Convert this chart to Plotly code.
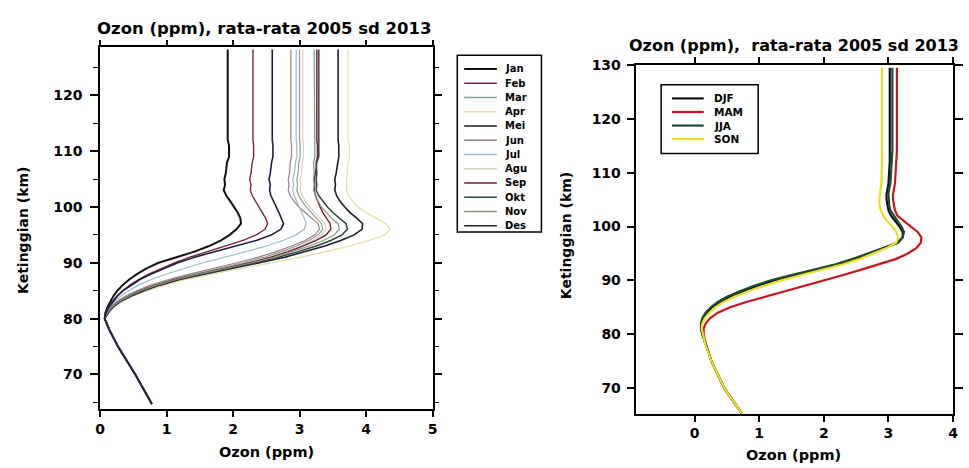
import plotly.graph_objects as go

W, H = 969, 468

# ---------------- data: left panel (monthly profiles) ----------------
months = ["Jan", "Feb", "Mar", "Apr", "Mei", "Jun", "Jul", "Agu", "Sep", "Okt", "Nov", "Des"]
month_colors = ["#111111", "#7a2838", "#8c9c92", "#e6dea2", "#1c1c30", "#9a8088",
                "#9cbccc", "#d6d2c0", "#6a2030", "#2a4a38", "#8a9282", "#1a2040"]
month_widths = [2.0, 1.4, 1.2, 1.2, 1.6, 1.2, 1.2, 1.2, 1.4, 1.5, 1.2, 1.6]

alt_left = [64.7, 70, 75, 78, 80, 81, 82, 83, 84, 85, 86, 87, 88, 89, 90, 91, 92, 93, 94, 95,
            96, 97, 98, 99, 100, 101, 102, 103, 104, 105, 106, 108, 109, 111, 112, 128.2]

low_common = [0.78, 0.53, 0.27, 0.14, 0.07]

ozon_jan = low_common + [0.08, 0.11, 0.15, 0.20, 0.26, 0.34, 0.44, 0.56, 0.70, 0.88, 1.15, 1.42, 1.64, 1.82, 1.95,
                         2.05, 2.12, 2.11, 2.07, 2.02, 1.96, 1.90, 1.86, 1.88, 1.87, 1.89, 1.91, 1.94, 1.94, 1.92, 1.92]
ozon_feb = low_common + [0.09, 0.13, 0.18, 0.25, 0.34, 0.45, 0.58, 0.74, 0.92, 1.12, 1.35, 1.62, 1.90, 2.15, 2.35,
                         2.48, 2.52, 2.49, 2.44, 2.39, 2.34, 2.29, 2.26, 2.27, 2.25, 2.27, 2.29, 2.31, 2.31, 2.30, 2.30]
ozon_mar = low_common + [0.11, 0.17, 0.26, 0.40, 0.57, 0.80, 1.08, 1.43, 1.80, 2.15, 2.47, 2.73, 2.95, 3.14, 3.28,
                         3.35, 3.33, 3.25, 3.17, 3.10, 3.04, 2.99, 2.96, 2.97, 2.96, 2.98, 2.99, 3.01, 3.01, 3.00, 3.00]
ozon_apr = low_common + [0.12, 0.20, 0.32, 0.50, 0.72, 0.98, 1.30, 1.70, 2.15, 2.60, 3.02, 3.40, 3.75, 4.05, 4.28,
                         4.36, 4.30, 4.15, 4.00, 3.88, 3.80, 3.74, 3.70, 3.71, 3.70, 3.72, 3.73, 3.75, 3.75, 3.73, 3.73]
ozon_mei = low_common + [0.12, 0.19, 0.30, 0.46, 0.66, 0.90, 1.20, 1.58, 2.00, 2.40, 2.78, 3.10, 3.38, 3.62, 3.82,
                         3.94, 3.95, 3.86, 3.76, 3.68, 3.61, 3.56, 3.53, 3.54, 3.53, 3.55, 3.57, 3.59, 3.59, 3.58, 3.58]
ozon_jun = low_common + [0.10, 0.16, 0.25, 0.38, 0.55, 0.76, 1.03, 1.36, 1.72, 2.06, 2.38, 2.65, 2.88, 3.08, 3.23,
                         3.30, 3.28, 3.18, 3.08, 2.99, 2.92, 2.86, 2.83, 2.84, 2.83, 2.85, 2.86, 2.88, 2.88, 2.87, 2.87]
ozon_jul = low_common + [0.10, 0.15, 0.22, 0.31, 0.43, 0.58, 0.77, 1.00, 1.27, 1.55, 1.88, 2.20, 2.50, 2.75, 2.95,
                         3.07, 3.10, 3.07, 3.03, 2.99, 2.95, 2.92, 2.90, 2.91, 2.90, 2.92, 2.94, 2.96, 2.96, 2.95, 2.95]
ozon_agu = low_common + [0.11, 0.17, 0.27, 0.41, 0.59, 0.82, 1.10, 1.46, 1.85, 2.22, 2.54, 2.80, 3.02, 3.20, 3.33,
                         3.40, 3.38, 3.30, 3.22, 3.15, 3.09, 3.04, 3.01, 3.02, 3.01, 3.03, 3.04, 3.06, 3.06, 3.05, 3.05]
ozon_sep = low_common + [0.11, 0.17, 0.27, 0.42, 0.60, 0.83, 1.12, 1.48, 1.88, 2.25, 2.57, 2.83, 3.05, 3.25, 3.40,
                         3.47, 3.46, 3.40, 3.35, 3.31, 3.27, 3.24, 3.22, 3.23, 3.22, 3.24, 3.26, 3.29, 3.29, 3.29, 3.29]
ozon_okt = low_common + [0.12, 0.18, 0.29, 0.44, 0.63, 0.87, 1.16, 1.53, 1.94, 2.33, 2.68, 2.98, 3.25, 3.47, 3.64,
                         3.72, 3.70, 3.60, 3.50, 3.42, 3.35, 3.29, 3.25, 3.26, 3.25, 3.26, 3.25, 3.27, 3.27, 3.26, 3.26]
ozon_nov = low_common + [0.11, 0.17, 0.28, 0.43, 0.61, 0.85, 1.14, 1.50, 1.90, 2.29, 2.62, 2.90, 3.15, 3.36, 3.52,
                         3.60, 3.58, 3.48, 3.40, 3.33, 3.28, 3.24, 3.21, 3.22, 3.21, 3.22, 3.21, 3.23, 3.23, 3.22, 3.22]
ozon_des = low_common + [0.09, 0.13, 0.19, 0.26, 0.35, 0.47, 0.60, 0.77, 0.96, 1.17, 1.42, 1.72, 2.05, 2.35, 2.58,
                         2.72, 2.76, 2.73, 2.69, 2.65, 2.61, 2.57, 2.55, 2.56, 2.54, 2.56, 2.58, 2.60, 2.60, 2.59, 2.59]

monthly = [ozon_jan, ozon_feb, ozon_mar, ozon_apr, ozon_mei, ozon_jun,
           ozon_jul, ozon_agu, ozon_sep, ozon_okt, ozon_nov, ozon_des]

# ---------------- data: right panel (seasonal profiles) ----------------
seasons = ["DJF", "MAM", "JJA", "SON"]
season_colors = ["#111111", "#c8141e", "#1e4a32", "#e8e020"]

alt_right = [65.3, 70, 75, 78, 80, 81, 82, 83, 84, 85, 86, 87, 88, 89, 90, 91, 92, 93, 94, 95,
             96, 97, 98, 99, 100, 101, 102, 103, 104, 105, 106, 107, 108, 112, 114, 129.5]

ozon_djf = [0.73, 0.46, 0.26, 0.17, 0.12, 0.10, 0.10, 0.13, 0.19, 0.27, 0.39, 0.55, 0.75, 0.97, 1.23, 1.55, 1.90, 2.22,
            2.48, 2.70, 2.93, 3.14, 3.22, 3.22, 3.17, 3.10, 3.04, 3.00, 2.98, 2.97, 2.97, 2.98, 3.00, 3.02, 3.02, 3.02]
ozon_mam = [0.73, 0.46, 0.26, 0.18, 0.14, 0.14, 0.17, 0.24, 0.36, 0.55, 0.80, 1.10, 1.42, 1.73, 2.02, 2.30, 2.58, 2.86,
            3.12, 3.30, 3.43, 3.50, 3.51, 3.45, 3.35, 3.24, 3.14, 3.10, 3.08, 3.07, 3.07, 3.08, 3.10, 3.12, 3.13, 3.13]
ozon_jja = [0.73, 0.46, 0.26, 0.17, 0.12, 0.10, 0.10, 0.12, 0.17, 0.25, 0.36, 0.51, 0.70, 0.92, 1.18, 1.50, 1.85, 2.18,
            2.45, 2.68, 2.92, 3.15, 3.22, 3.24, 3.20, 3.14, 3.08, 3.03, 3.01, 3.00, 3.00, 3.01, 3.03, 3.05, 3.06, 3.06]
ozon_son = [0.73, 0.46, 0.26, 0.17, 0.13, 0.11, 0.12, 0.16, 0.23, 0.32, 0.45, 0.62, 0.83, 1.07, 1.34, 1.65, 1.98, 2.30,
            2.56, 2.78, 2.97, 3.12, 3.15, 3.12, 3.06, 2.98, 2.92, 2.88, 2.86, 2.86, 2.87, 2.88, 2.89, 2.90, 2.90, 2.90]
seasonal = [ozon_djf, ozon_mam, ozon_jja, ozon_son]

title_text = "Ozon (ppm), rata-rata 2005 sd 2013"
title_text_r = "Ozon (ppm),\u00a0 rata-rata 2005 sd 2013"
xlabel = "Ozon (ppm)"
ylabel = "Ketinggian (km)"

# ---------------- figure ----------------
FONT = "DejaVu Sans"
fig = go.Figure()

for name, vals, col, w in zip(months, monthly, month_colors, month_widths):
    fig.add_trace(go.Scatter(x=vals, y=alt_left, mode="lines", name=name,
                             line=dict(color=col, width=w), xaxis="x", yaxis="y",
                             showlegend=False))

for name, vals, col in zip(seasons, seasonal, season_colors):
    fig.add_trace(go.Scatter(x=vals, y=alt_right, mode="lines", name=name,
                             line=dict(color=col, width=2.2), xaxis="x2", yaxis="y2",
                             showlegend=False))


def px(x):
    return x / W


def py(y):
    return 1 - y / H


axis_common = dict(showline=True, linecolor="black", linewidth=1.5, mirror="allticks",
                   ticks="outside", tickcolor="black", tickwidth=1.5, showgrid=False,
                   zeroline=False, tickfont=dict(family=FONT, size=14, color="black", weight="bold"))

fig.update_layout(
    width=W, height=H, margin=dict(l=0, r=0, t=0, b=0),
    paper_bgcolor="white", plot_bgcolor="white", showlegend=False,
    xaxis=dict(domain=[px(96), px(432)], range=[0, 5], dtick=1, ticklen=6,
               anchor="y", **axis_common),
    yaxis=dict(domain=[py(408), py(40)], range=[63.8, 128.6], tickvals=[70, 80, 90, 100, 110, 120],
               ticklen=8, ticklabelstandoff=5, anchor="x",
               minor=dict(ticks="outside", tickvals=[65, 75, 85, 95, 105, 115, 125], ticklen=5,
                          tickcolor="black", tickwidth=1.2),
               **axis_common),
    xaxis2=dict(domain=[px(638), px(958)], range=[-0.9, 4], tickvals=[0, 1, 2, 3, 4], ticklen=6,
                anchor="y2", **axis_common),
    yaxis2=dict(domain=[py(413), py(58)], range=[65.2, 130], dtick=10, ticklen=8,
                ticklabelstandoff=3, anchor="x2", **axis_common),
)

ann = []
ann.append(dict(x=px(262), y=py(21), xref="paper", yref="paper", text=title_text, showarrow=False,
                font=dict(family=FONT, size=16.5, color="black", weight="bold"), xanchor="center", yanchor="middle"))
ann.append(dict(x=px(797), y=py(38), xref="paper", yref="paper", text=title_text_r, showarrow=False,
                font=dict(family=FONT, size=16, color="black", weight="bold"), xanchor="center", yanchor="middle"))
ann.append(dict(x=px(264), y=py(452), xref="paper", yref="paper", text=xlabel, showarrow=False,
                font=dict(family=FONT, size=14.5, color="black", weight="bold"), xanchor="center", yanchor="middle"))
ann.append(dict(x=px(797), y=py(455), xref="paper", yref="paper", text=xlabel, showarrow=False,
                font=dict(family=FONT, size=14.5, color="black", weight="bold"), xanchor="center", yanchor="middle"))
ann.append(dict(x=px(18), y=py(226), xref="paper", yref="paper", text=ylabel, showarrow=False, textangle=-90,
                font=dict(family=FONT, size=14, color="black", weight="bold"), xanchor="center", yanchor="middle"))
ann.append(dict(x=px(567), y=py(232), xref="paper", yref="paper", text=ylabel, showarrow=False, textangle=-90,
                font=dict(family=FONT, size=14, color="black", weight="bold"), xanchor="center", yanchor="middle"))

shapes = []
# left legend box (manual, compact spacing like the original)
shapes.append(dict(type="rect", xref="paper", yref="paper", x0=px(457), x1=px(542), y0=py(228), y1=py(48),
                   line=dict(color="black", width=1.5), fillcolor="white"))
for i, (name, col, w) in enumerate(zip(months, month_colors, month_widths)):
    yy = 62 + i * 14.5
    shapes.append(dict(type="line", xref="paper", yref="paper", x0=px(464), x1=px(497), y0=py(yy), y1=py(yy),
                       line=dict(color=col, width=max(w, 1.4))))
    ann.append(dict(x=px(503), y=py(yy), xref="paper", yref="paper", text=name, showarrow=False,
                    font=dict(family=FONT, size=10, color="black", weight="bold"), xanchor="left", yanchor="middle"))

# right legend box
shapes.append(dict(type="rect", xref="paper", yref="paper", x0=px(663), x1=px(761), y0=py(148), y1=py(78),
                   line=dict(color="black", width=1.5), fillcolor="white"))
for i, (name, col) in enumerate(zip(seasons, season_colors)):
    yy = 92 + i * 13.8
    shapes.append(dict(type="line", xref="paper", yref="paper", x0=px(674), x1=px(706), y0=py(yy), y1=py(yy),
                       line=dict(color=col, width=2.2)))
    ann.append(dict(x=px(714), y=py(yy), xref="paper", yref="paper", text=name, showarrow=False,
                    font=dict(family=FONT, size=10.5, color="black", weight="bold"), xanchor="left", yanchor="middle"))

fig.update_layout(annotations=ann, shapes=shapes)
fig.write_html("out.html", config={"displayModeBar": False},
               post_script="document.body.style.margin='0';document.body.style.overflow='hidden';")
